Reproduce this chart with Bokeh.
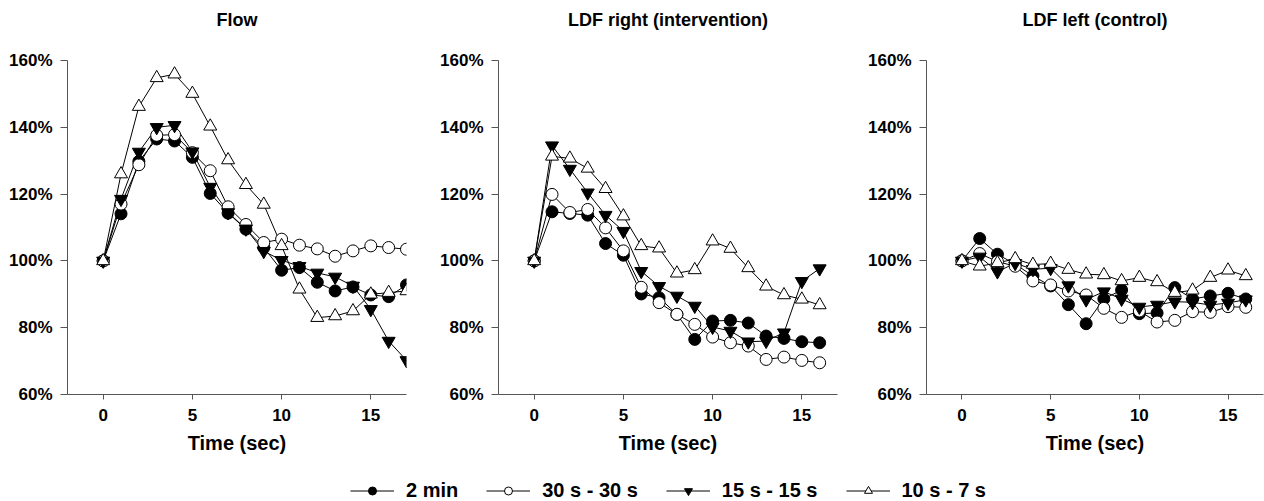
from bokeh.plotting import figure
from bokeh.layouts import column, row
from bokeh.models import Range1d, FixedTicker, PrintfTickFormatter, Legend, LegendItem, ColumnDataSource, Title
from bokeh.embed import file_html
from bokeh.resources import INLINE

# ---------------- data ----------------
series_names = ["2 min", "30 s - 30 s", "15 s - 15 s", "10 s - 7 s"]

time_flow = list(range(18))
flow_2min = [100, 114.1, 129.8, 136.5, 135.9, 131.0, 120.2, 114.3, 109.5, 104.0, 97.2, 98.0, 93.6, 91.0, 92.2, 89.8, 89.3, 92.8]
flow_30s = [100, 117.0, 128.8, 137.6, 137.8, 132.4, 127.0, 116.2, 110.9, 105.5, 106.5, 104.7, 103.6, 101.4, 103.0, 104.5, 104.0, 103.5]
flow_15s = [100, 118.5, 132.6, 140.0, 140.6, 132.7, 122.1, 114.5, 109.6, 102.9, 100.2, 98.4, 96.4, 95.2, 92.5, 85.5, 76.0, 70.2]
flow_10s = [100, 126.0, 146.2, 154.8, 155.9, 150.1, 140.3, 130.2, 122.8, 116.9, 104.5, 91.5, 83.0, 83.5, 85.0, 90.0, 90.5, 91.0]

time_ldf = list(range(17))
right_2min = [100, 114.7, 114.2, 113.7, 105.2, 101.7, 90.1, 89.0, 84.0, 76.5, 82.0, 82.2, 81.4, 77.5, 76.8, 75.8, 75.5]
right_30s = [100, 119.9, 114.5, 115.4, 109.9, 103.0, 92.1, 87.5, 84.0, 81.0, 77.2, 75.5, 74.5, 70.5, 71.2, 70.2, 69.5]
right_15s = [100, 134.5, 127.5, 120.4, 113.7, 108.9, 96.9, 92.4, 89.5, 86.5, 80.2, 79.0, 75.8, 76.0, 78.5, 93.9, 97.7]
right_10s = [100, 131.3, 130.7, 127.7, 121.6, 113.4, 104.5, 103.8, 96.3, 97.3, 105.9, 103.7, 97.9, 92.4, 89.8, 88.5, 86.8]

left_2min = [100, 106.7, 102.0, 99.0, 95.5, 92.5, 86.9, 81.2, 88.6, 91.3, 84.2, 84.4, 92.0, 88.6, 89.5, 90.3, 88.6]
left_30s = [100, 102.2, 99.8, 98.4, 94.0, 92.8, 91.0, 89.8, 85.8, 83.1, 85.0, 81.7, 82.2, 84.8, 84.6, 86.3, 86.1]
left_15s = [100, 101.2, 96.8, 99.3, 97.5, 97.8, 92.6, 88.4, 90.8, 88.6, 86.2, 86.8, 87.8, 87.6, 86.8, 87.4, 88.4]
left_10s = [100, 98.4, 99.4, 100.6, 98.9, 99.2, 97.4, 96.0, 95.8, 94.0, 95.0, 93.7, 90.5, 91.2, 95.0, 97.2, 95.5]

x_ticks = [0, 5, 10, 15]
y_ticks = [60, 80, 100, 120, 140, 160]
titles = ["Flow", "LDF right (intervention)", "LDF left (control)"]
x_label = "Time (sec)"

# ---------------- styles ----------------
FONT = "Liberation Sans"
AXIS_COLOR = "#555555"
marker_styles = [
    dict(marker="circle", fill_color="black", size=12),
    dict(marker="circle", fill_color="white", size=12),
    dict(marker="inverted_triangle", fill_color="black", size=13),
    dict(marker="triangle", fill_color="white", size=13),
]


def make_panel(title, t, series, width, b_left, b_right):
    p = figure(width=width, height=456, title=None,
               x_range=Range1d(-2, 17), y_range=Range1d(60, 160),
               output_backend="svg", toolbar_location=None,
               min_border_left=b_left, min_border_right=b_right,
               min_border_top=60, min_border_bottom=58)
    p.outline_line_color = None
    p.grid.visible = False
    p.background_fill_color = "white"
    p.border_fill_color = "white"
    # blank spacer block between the frame and the title
    p.add_layout(Title(text=" ", text_font_size="10px", standoff=18), "above")
    p.add_layout(Title(text=title, align="center", text_font=FONT, text_font_size="18px",
                       text_font_style="bold", text_color="black", standoff=0), "above")

    for vals in series:
        src = ColumnDataSource(dict(t=t, v=vals))
        p.line("t", "v", source=src, line_color="black", line_width=1)
    for vals, st in zip(series, marker_styles):
        src = ColumnDataSource(dict(t=t, v=vals))
        p.scatter("t", "v", source=src, marker=st["marker"], size=st["size"],
                  fill_color=st["fill_color"], line_color="black", line_width=1)

    xa = p.xaxis[0]
    xa.ticker = FixedTicker(ticks=x_ticks)
    xa.minor_tick_line_color = None
    xa.major_tick_in = 0
    xa.major_tick_out = 5
    xa.major_label_standoff = 9
    xa.axis_label = x_label
    xa.axis_label_standoff = 8

    ya = p.yaxis[0]
    ya.ticker = FixedTicker(ticks=y_ticks)
    ya.formatter = PrintfTickFormatter(format="%d%%")
    ya.minor_tick_line_color = None
    ya.major_tick_in = 0
    ya.major_tick_out = 7
    ya.major_label_standoff = 8

    for ax in (xa, ya):
        ax.axis_line_color = AXIS_COLOR
        ax.major_tick_line_color = AXIS_COLOR
        ax.major_label_text_font = FONT
        ax.major_label_text_font_size = "17px"
        ax.major_label_text_font_style = "bold"
        ax.major_label_text_color = "black"
        ax.axis_label_text_font = FONT
        ax.axis_label_text_font_size = "20px"
        ax.axis_label_text_font_style = "bold"
        ax.axis_label_text_color = "black"
    return p


p1 = make_panel(titles[0], time_flow, [flow_2min, flow_30s, flow_15s, flow_10s], 437, 67, 31)
p2 = make_panel(titles[1], time_ldf, [right_2min, right_30s, right_15s, right_10s], 428, 60, 28)
p3 = make_panel(titles[2], time_ldf, [left_2min, left_30s, left_15s, left_10s], 399, 60, 1)

# ---------------- legend strip ----------------
# legend renderers reuse the Flow series; the strip's y range keeps them out of view
pl = figure(width=1264, height=44, x_range=Range1d(0, 1), y_range=Range1d(0, 1),
            output_backend="svg", toolbar_location=None,
            min_border_left=72, min_border_right=0, min_border_top=24, min_border_bottom=0)
pl.outline_line_color = None
pl.grid.visible = False
pl.axis.visible = False
items = []
for name, vals, st in zip(series_names, [flow_2min, flow_30s, flow_15s, flow_10s], marker_styles):
    src = ColumnDataSource(dict(t=time_flow, v=vals))
    lr = pl.line("t", "v", source=src, line_color="black", line_width=1)
    sr = pl.scatter("t", "v", source=src, marker=st["marker"], size=st["size"] - 4,
                    fill_color=st["fill_color"], line_color="black", line_width=1)
    items.append(LegendItem(label=name, renderers=[lr, sr]))
leg = Legend(items=items, orientation="horizontal", location="center",
             glyph_width=44, glyph_height=20, label_standoff=12, spacing=28,
             padding=0, margin=0, border_line_color=None, background_fill_alpha=0,
             label_text_font=FONT, label_text_font_size="20px", label_text_font_style="bold",
             label_text_color="black")
pl.add_layout(leg, "center")

layout = column(row(p1, p2, p3), pl)
open("out.html", "w").write(file_html(layout, INLINE))
